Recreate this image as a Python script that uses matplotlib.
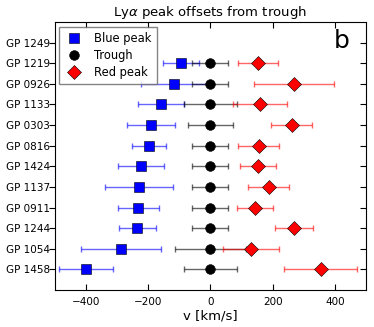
import numpy as np
import matplotlib
matplotlib.use("Agg")
import matplotlib.pyplot as plt

names = ["GP 1458", "GP 1054", "GP 1244", "GP 0911", "GP 1137", "GP 1424",
         "GP 0816", "GP 0303", "GP 1133", "GP 0926", "GP 1219", "GP 1249"]
blue_v = [-400, -287, -234, -231, -228, -223, -197, -190, -159, -117, -95, np.nan]
blue_e = [86, 129, 58, 65, 109, 74, 56, 78, 73, 107, 57, np.nan]
trough_v = [0, 0, 0, 0, 0, 0, 0, 0, 0, 0, 0, np.nan]
trough_e = [85, 114, 58, 58, 58, 58, 58, 72, 86, 58, 58, np.nan]
red_v = [354, 129, 268, 142, 187, 153, 155, 261, 160, 268, 153, np.nan]
red_e = [118, 90, 61, 58, 66, 58, 65, 65, 87, 128, 64, np.nan]

plt.rcParams['font.family'] = ['DejaVu Sans']
fig = plt.figure(figsize=(3.74, 3.27), dpi=100)
ax = fig.add_axes([0.146, 0.113, 0.833, 0.82])
y = np.arange(len(names))

ax.errorbar(blue_v, y, xerr=blue_e, fmt='none', ecolor=(0, 0, 1, 0.6), elinewidth=1, capsize=2)
ax.errorbar(trough_v, y, xerr=trough_e, fmt='none', ecolor=(0, 0, 0, 0.6), elinewidth=1, capsize=2)
ax.errorbar(red_v, y, xerr=red_e, fmt='none', ecolor=(1, 0, 0, 0.6), elinewidth=1, capsize=2)

ax.errorbar(blue_v, y, xerr=blue_e, fmt='s', color='b', ecolor=(0, 0, 1, 0.0), ms=7, mec='k', mew=0.4, label='Blue peak', zorder=3)
ax.errorbar(trough_v, y, xerr=trough_e, fmt='o', color='k', ecolor=(0, 0, 0, 0.0), ms=7, mec='k', mew=0.4, label='Trough', zorder=3)
ax.errorbar(red_v, y, xerr=red_e, fmt='D', color='r', ecolor=(1, 0, 0, 0.0), ms=7, mec='k', mew=0.4, label='Red peak', zorder=3)

ax.set_xlim(-500, 500)
ax.set_ylim(-1, 12)
ax.set_yticks(y)
ax.set_yticklabels(names, fontsize=7.5)
ax.set_xticks([-400, -200, 0, 200, 400])
ax.tick_params(axis='x', labelsize=7.5, direction='in', top=True, length=4, pad=5)
ax.tick_params(axis='y', left=True, right=True, length=4, direction='in')
for t in ax.yaxis.get_major_ticks():
    t.tick1line.set_marker(matplotlib.lines.TICKLEFT)
ax.set_xlabel('v [km/s]', fontsize=9.5, labelpad=2)
ax.set_title(r'Ly$\alpha$ peak offsets from trough', fontsize=9.5, pad=4)
ax.text(0.923, 0.93, 'b', transform=ax.transAxes, fontsize=18, ha='center', va='center')

leg = ax.legend(loc='upper left', fontsize=8.3, numpoints=1, fancybox=False,
                handlelength=1.6, borderpad=0.45, labelspacing=0.35, borderaxespad=0.4,
                handletextpad=1.0)
leg.get_frame().set_edgecolor('0.4')
leg.get_frame().set_linewidth(1)

fig.savefig('out.png', dpi=100)
